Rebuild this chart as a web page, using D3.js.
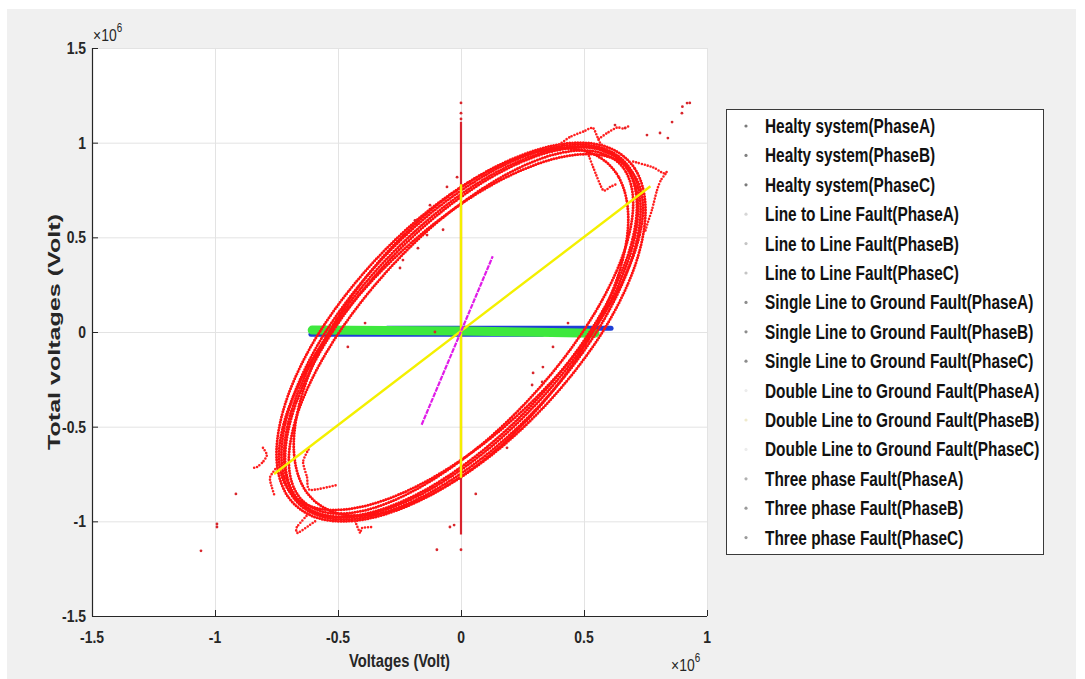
<!DOCTYPE html>
<html><head><meta charset="utf-8">
<script src="https://cdn.jsdelivr.net/npm/d3@7"></script>
<style>
body{margin:0;background:#fff;}
text{font-family:"Liberation Sans",Arial,Helvetica,sans-serif;}
</style></head><body>
<svg id="chart" width="1085" height="679"></svg>
<script>
// All voltages are in units of 1e6 V
const xTicks = [-1.5, -1, -0.5, 0, 0.5, 1];
const yTicks = [-1.5, -1, -0.5, 0, 0.5, 1, 1.5];
const xTickLabels = ["-1.5", "-1", "-0.5", "0", "0.5", "1"];
const yTickLabels = ["-1.5", "-1", "-0.5", "0", "0.5", "1", "1.5"];

const legendLabels = [
  "Healty system(PhaseA)", "Healty system(PhaseB)", "Healty system(PhaseC)",
  "Line to Line Fault(PhaseA)", "Line to Line Fault(PhaseB)", "Line to Line Fault(PhaseC)",
  "Single Line to Ground Fault(PhaseA)", "Single Line to Ground Fault(PhaseB)", "Single Line to Ground Fault(PhaseC)",
  "Double Line to Ground Fault(PhaseA)", "Double Line to Ground Fault(PhaseB)", "Double Line to Ground Fault(PhaseC)",
  "Three phase Fault(PhaseA)", "Three phase Fault(PhaseB)", "Three phase Fault(PhaseC)"
];
const legendDotColors = ["#7a7a7a", "#808080", "#7a7a7a", "#d6d6d6", "#c4c4c4", "#c4c4c4",
  "#8c8c8c", "#8c8c8c", "#8c8c8c", "#ececec", "#efeacc", "#ececec", "#b0b0b0", "#9a9a9a", "#9a9a9a"];

// Red trajectory loops of the healthy system (x, y)
const loop1 = [[0.72,0.656],[0.677,0.865],[0.552,0.972],[0.36,0.959],[0.125,0.831],[-0.125,0.603],[-0.36,0.303],[-0.552,-0.034],[-0.677,-0.367],[-0.72,-0.656],[-0.677,-0.865],[-0.552,-0.970],[-0.36,-0.959],[-0.125,-0.831],[0.125,-0.603],[0.36,-0.303],[0.552,0.034],[0.677,0.367]];
const loop2 = [[0.70,0.679],[0.658,0.870],[0.536,0.956],[0.35,0.927],[0.122,0.786],[-0.122,0.551],[-0.35,0.248],[-0.536,-0.084],[-0.658,-0.406],[-0.70,-0.679],[-0.658,-0.870],[-0.536,-0.956],[-0.35,-0.927],[-0.122,-0.786],[0.122,-0.551],[0.35,-0.248],[0.536,0.084],[0.658,0.406]];
const loop3 = [[0.75,0.643],[0.705,0.866],[0.575,0.985],[0.375,0.985],[0.131,0.866],[-0.131,0.643],[-0.375,0.342],[-0.575,0.0],[-0.705,-0.342],[-0.75,-0.643],[-0.705,-0.866],[-0.575,-0.985],[-0.375,-0.985],[-0.131,-0.866],[0.131,-0.643],[0.375,-0.342],[0.575,0.0],[0.705,0.342]];
const loop4 = [[0.68,0.597],[0.639,0.823],[0.521,0.949],[0.34,0.961],[0.118,0.856],[-0.118,0.649],[-0.34,0.363],[-0.521,0.034],[-0.639,-0.300],[-0.68,-0.597],[-0.639,-0.823],[-0.521,-0.949],[-0.34,-0.961],[-0.118,-0.856],[0.118,-0.649],[0.34,-0.363],[0.521,-0.034],[0.639,0.300]];
const loop5 = [[0.74,0.653],[0.695,0.845],[0.567,0.935],[0.37,0.912],[0.128,0.779],[-0.128,0.553],[-0.37,0.259],[-0.567,-0.066],[-0.695,-0.382],[-0.74,-0.653],[-0.695,-0.845],[-0.567,-0.935],[-0.37,-0.912],[-0.128,-0.779],[0.128,-0.553],[0.37,-0.259],[0.567,0.066],[0.695,0.382]];
const loop6 = [[0.715,0.665],[0.672,0.869],[0.548,0.968],[0.358,0.950],[0.124,0.818],[-0.124,0.587],[-0.358,0.285],[-0.548,-0.051],[-0.672,-0.381],[-0.715,-0.665],[-0.672,-0.869],[-0.548,-0.968],[-0.358,-0.950],[-0.124,-0.818],[0.124,-0.587],[0.358,-0.285],[0.548,0.051],[0.672,0.381]];
const loop7 = [[0.73,0.649],[0.686,0.866],[0.559,0.978],[0.365,0.972],[0.127,0.849],[-0.127,0.623],[-0.365,0.322],[-0.559,-0.017],[-0.686,-0.355],[-0.73,-0.649],[-0.686,-0.866],[-0.559,-0.978],[-0.365,-0.972],[-0.127,-0.849],[0.127,-0.623],[0.365,-0.322],[0.559,0.017],[0.686,0.355]];

// Short transient excursions off the loops
const ringing = [
  [[0.40,0.99],[0.443,1.03],[0.50,1.06],[0.537,1.077],[0.565,1.00],[0.60,0.96]],
  [[0.56,1.02],[0.593,1.05],[0.634,1.08],[0.66,1.075],[0.687,1.09]],
  [[0.52,0.93],[0.537,0.871],[0.577,0.75],[0.606,0.766],[0.63,0.78]],
  [[0.70,0.90],[0.78,0.87],[0.821,0.839],[0.837,0.845],[0.813,0.803],[0.797,0.75],[0.776,0.644],[0.76,0.581],[0.748,0.528]],
  [[-0.62,-0.62],[-0.642,-0.686],[-0.626,-0.766],[-0.614,-0.834],[-0.504,-0.808]],
  [[-0.62,-0.96],[-0.667,-1.03],[-0.663,-1.061],[-0.602,-1.008],[-0.585,-0.993]],
  [[-0.43,-1.00],[-0.41,-1.061],[-0.402,-1.035],[-0.358,-1.03]],
  [[-0.74,-0.70],[-0.776,-0.766],[-0.768,-0.824],[-0.756,-0.871]],
  [[-0.805,-0.612],[-0.789,-0.649],[-0.805,-0.686],[-0.829,-0.713],[-0.850,-0.718]]
];

// Isolated samples
const strayPoints = [
  [0.919,1.209],[0.898,1.156],[0.858,1.109],[0.809,1.051],[0.841,1.024],[0.756,1.040],[0.667,1.077],[0.626,1.093],
  [0.93,1.21],[0.90,1.19],
  [-0.915,-0.855],[-0.992,-1.03],[-0.992,-1.014],[-1.057,-1.156],
  [-0.098,-1.15],[0.0,-1.15],[-0.045,-1.03],[-0.028,-1.02],[0.06,-0.855],
  [0.0,1.21],[0.0,1.156],[0.0,1.125],
  [-0.073,0.54],[-0.236,0.38],[-0.248,0.338],[-0.175,0.443],[-0.138,0.512],
  [-0.187,0.59],[-0.126,0.67],[-0.057,0.766],[-0.016,0.818],
  [0.293,-0.216],[0.289,-0.28],[0.33,-0.264],[0.333,-0.185],[0.187,-0.612],
  [-0.39,0.047],[-0.46,-0.079],[0.435,0.047],[0.374,-0.079],[-0.106,0.0]
];

// Line to line fault traces
const llDiagonal = [[-0.76,-0.75],[0.77,0.77]];
const llVertical = [[0.0,0.78],[0.0,-0.77]];
// Single line to ground fault trace
const slgTrace = [[-0.605,0.010],[0.0,0.005],[0.545,-0.006]];
// Double line to ground fault traces
const dlgLower = [[-0.61,-0.012],[0.33,-0.012]];
const dlgUpper = [[-0.30,0.020],[0.61,0.020]];
// Three phase fault traces
const tpSlope = [[-0.16,-0.49],[0.129,0.40]];
const tpVertical = [[0.0,1.11],[0.0,-1.07]];

const svg = d3.select("#chart");
const W = 1085, H = 679;
const plot = {left: 92, right: 707, top: 48, bottom: 616};

const x = d3.scaleLinear().domain([-1.5, 1]).range([plot.left, plot.right]);
const y = d3.scaleLinear().domain([-1.5, 1.5]).range([plot.bottom, plot.top]);

// figure background
svg.append("rect").attr("x", 0).attr("y", 0).attr("width", W).attr("height", H).attr("fill", "#ffffff");
svg.append("rect").attr("x", 7).attr("y", 9).attr("width", W - 16).attr("height", H - 9).attr("fill", "#f0f0f0");
svg.append("rect").attr("x", plot.left).attr("y", plot.top)
  .attr("width", plot.right - plot.left).attr("height", plot.bottom - plot.top).attr("fill", "#ffffff");

// grid
const grid = svg.append("g").attr("stroke", "#e3e3e3").attr("stroke-width", 1);
grid.selectAll(".gx").data(xTicks).join("line")
  .attr("x1", d => x(d) + 0.5).attr("x2", d => x(d) + 0.5).attr("y1", plot.top).attr("y2", plot.bottom);
grid.selectAll(".gy").data(yTicks).join("line")
  .attr("y1", d => y(d) + 0.5).attr("y2", d => y(d) + 0.5).attr("x1", plot.left).attr("x2", plot.right);

const line = d3.line().x(d => x(d[0])).y(d => y(d[1]));
const loopLine = d3.line().x(d => x(d[0])).y(d => y(d[1])).curve(d3.curveCardinalClosed.tension(0));
const openCurve = d3.line().x(d => x(d[0])).y(d => y(d[1])).curve(d3.curveCardinal.tension(0.3));

const marks = svg.append("g");

// double line to ground (blue) and single line to ground (green)
[dlgLower, dlgUpper].forEach(seg => {
  marks.append("path").attr("d", line(seg)).attr("fill", "none")
    .attr("stroke", "#1f3fd6").attr("stroke-width", 5).attr("stroke-linecap", "round");
});
marks.append("path").attr("d", line(slgTrace)).attr("fill", "none")
  .attr("stroke", "#3ee83e").attr("stroke-width", 9).attr("stroke-linecap", "round");

// healthy system loops drawn as dense dot markers
[loop4, loop2, loop6, loop1, loop7, loop5, loop3].forEach(lp => {
  marks.append("path").attr("d", loopLine(lp)).attr("fill", "none")
    .attr("stroke", "#ff1212").attr("stroke-width", 3.0)
    .attr("stroke-linecap", "round").attr("stroke-dasharray", "0 2.7");
});
ringing.forEach(r => {
  marks.append("path").attr("d", openCurve(r)).attr("fill", "none")
    .attr("stroke", "#ff2020").attr("stroke-width", 2.6)
    .attr("stroke-linecap", "round").attr("stroke-dasharray", "0 3");
});
marks.selectAll(".stray").data(strayPoints).join("circle")
  .attr("cx", d => x(d[0])).attr("cy", d => y(d[1])).attr("r", 1.4).attr("fill", "#d8262c");

// three phase fault vertical (red), under the line to line traces
marks.append("path").attr("d", line(tpVertical)).attr("fill", "none")
  .attr("stroke", "#d9232e").attr("stroke-width", 2.2);

// line to line fault (yellow)
[llDiagonal, llVertical].forEach(seg => {
  marks.append("path").attr("d", line(seg)).attr("fill", "none")
    .attr("stroke", "#f4f000").attr("stroke-width", 2.4);
});

// three phase fault sloped trace (magenta)
marks.append("path").attr("d", line(tpSlope)).attr("fill", "none")
  .attr("stroke", "#e01ce8").attr("stroke-width", 2.2).attr("stroke-dasharray", "5 1");

// axes
const axisColor = "#262626";
svg.append("line").attr("x1", plot.left + 0.5).attr("x2", plot.left + 0.5)
  .attr("y1", plot.top).attr("y2", plot.bottom + 0.5).attr("stroke", axisColor).attr("stroke-width", 1.2);
svg.append("line").attr("x1", plot.left).attr("x2", plot.right)
  .attr("y1", plot.bottom + 0.5).attr("y2", plot.bottom + 0.5).attr("stroke", axisColor).attr("stroke-width", 1.2);
svg.selectAll(".xt").data(xTicks).join("line")
  .attr("x1", d => x(d) + 0.5).attr("x2", d => x(d) + 0.5)
  .attr("y1", plot.bottom).attr("y2", plot.bottom - 6).attr("stroke", axisColor);
svg.selectAll(".yt").data(yTicks).join("line")
  .attr("y1", d => y(d) + 0.5).attr("y2", d => y(d) + 0.5)
  .attr("x1", plot.left).attr("x2", plot.left + 6).attr("stroke", axisColor);

const sx = 0.82;
svg.selectAll(".xl").data(xTicks).join("text")
  .attr("transform", d => `translate(${x(d)},${plot.bottom + 27}) scale(${sx},1)`)
  .attr("text-anchor", "middle").attr("font-size", 17).attr("font-weight", "bold")
  .attr("fill", "#262626").text((d, i) => xTickLabels[i]);
svg.selectAll(".yl").data(yTicks).join("text")
  .attr("transform", d => `translate(${plot.left - 6},${y(d) + 6}) scale(${sx},1)`)
  .attr("text-anchor", "end").attr("font-size", 17).attr("font-weight", "bold")
  .attr("fill", "#262626").text((d, i) => yTickLabels[i]);

// exponent markers
function exponent(gx, gy) {
  const t = svg.append("text").attr("transform", `translate(${gx},${gy}) scale(${sx},1)`)
    .attr("font-size", 17).attr("fill", "#262626");
  t.append("tspan").text("×10");
  t.append("tspan").attr("font-size", 12).attr("dy", -9).text("6");
}
exponent(plot.left + 1, 41);
exponent(671, 671);

// axis titles
svg.append("text").attr("transform", `translate(${(plot.left + plot.right) / 2},${667}) scale(${sx},1)`)
  .attr("text-anchor", "middle").attr("font-size", 18).attr("font-weight", "bold")
  .attr("fill", "#262626").text("Voltages (Volt)");
svg.append("text").attr("transform", `translate(60,${(plot.top + plot.bottom) / 2}) rotate(-90)`)
  .attr("text-anchor", "middle").attr("font-size", 16).attr("font-weight", "bold")
  .attr("textLength", 236).attr("lengthAdjust", "spacingAndGlyphs")
  .attr("fill", "#262626").text("Total voltages (Volt)");

// legend
const lg = svg.append("g");
lg.append("rect").attr("x", 726.5).attr("y", 109.5).attr("width", 317).attr("height", 445)
  .attr("fill", "#ffffff").attr("stroke", "#3a3a3a").attr("stroke-width", 1);
const step = 29.4;
legendLabels.forEach((lab, i) => {
  const cy = 126 + i * step;
  lg.append("circle").attr("cx", 746).attr("cy", cy).attr("r", 1.6).attr("fill", legendDotColors[i]);
  lg.append("text").attr("transform", `translate(765,${cy + 7}) scale(0.77,1)`)
    .attr("font-size", 20).attr("font-weight", "bold").attr("fill", "#111")
    .text(lab);
});
</script>
</body></html>
